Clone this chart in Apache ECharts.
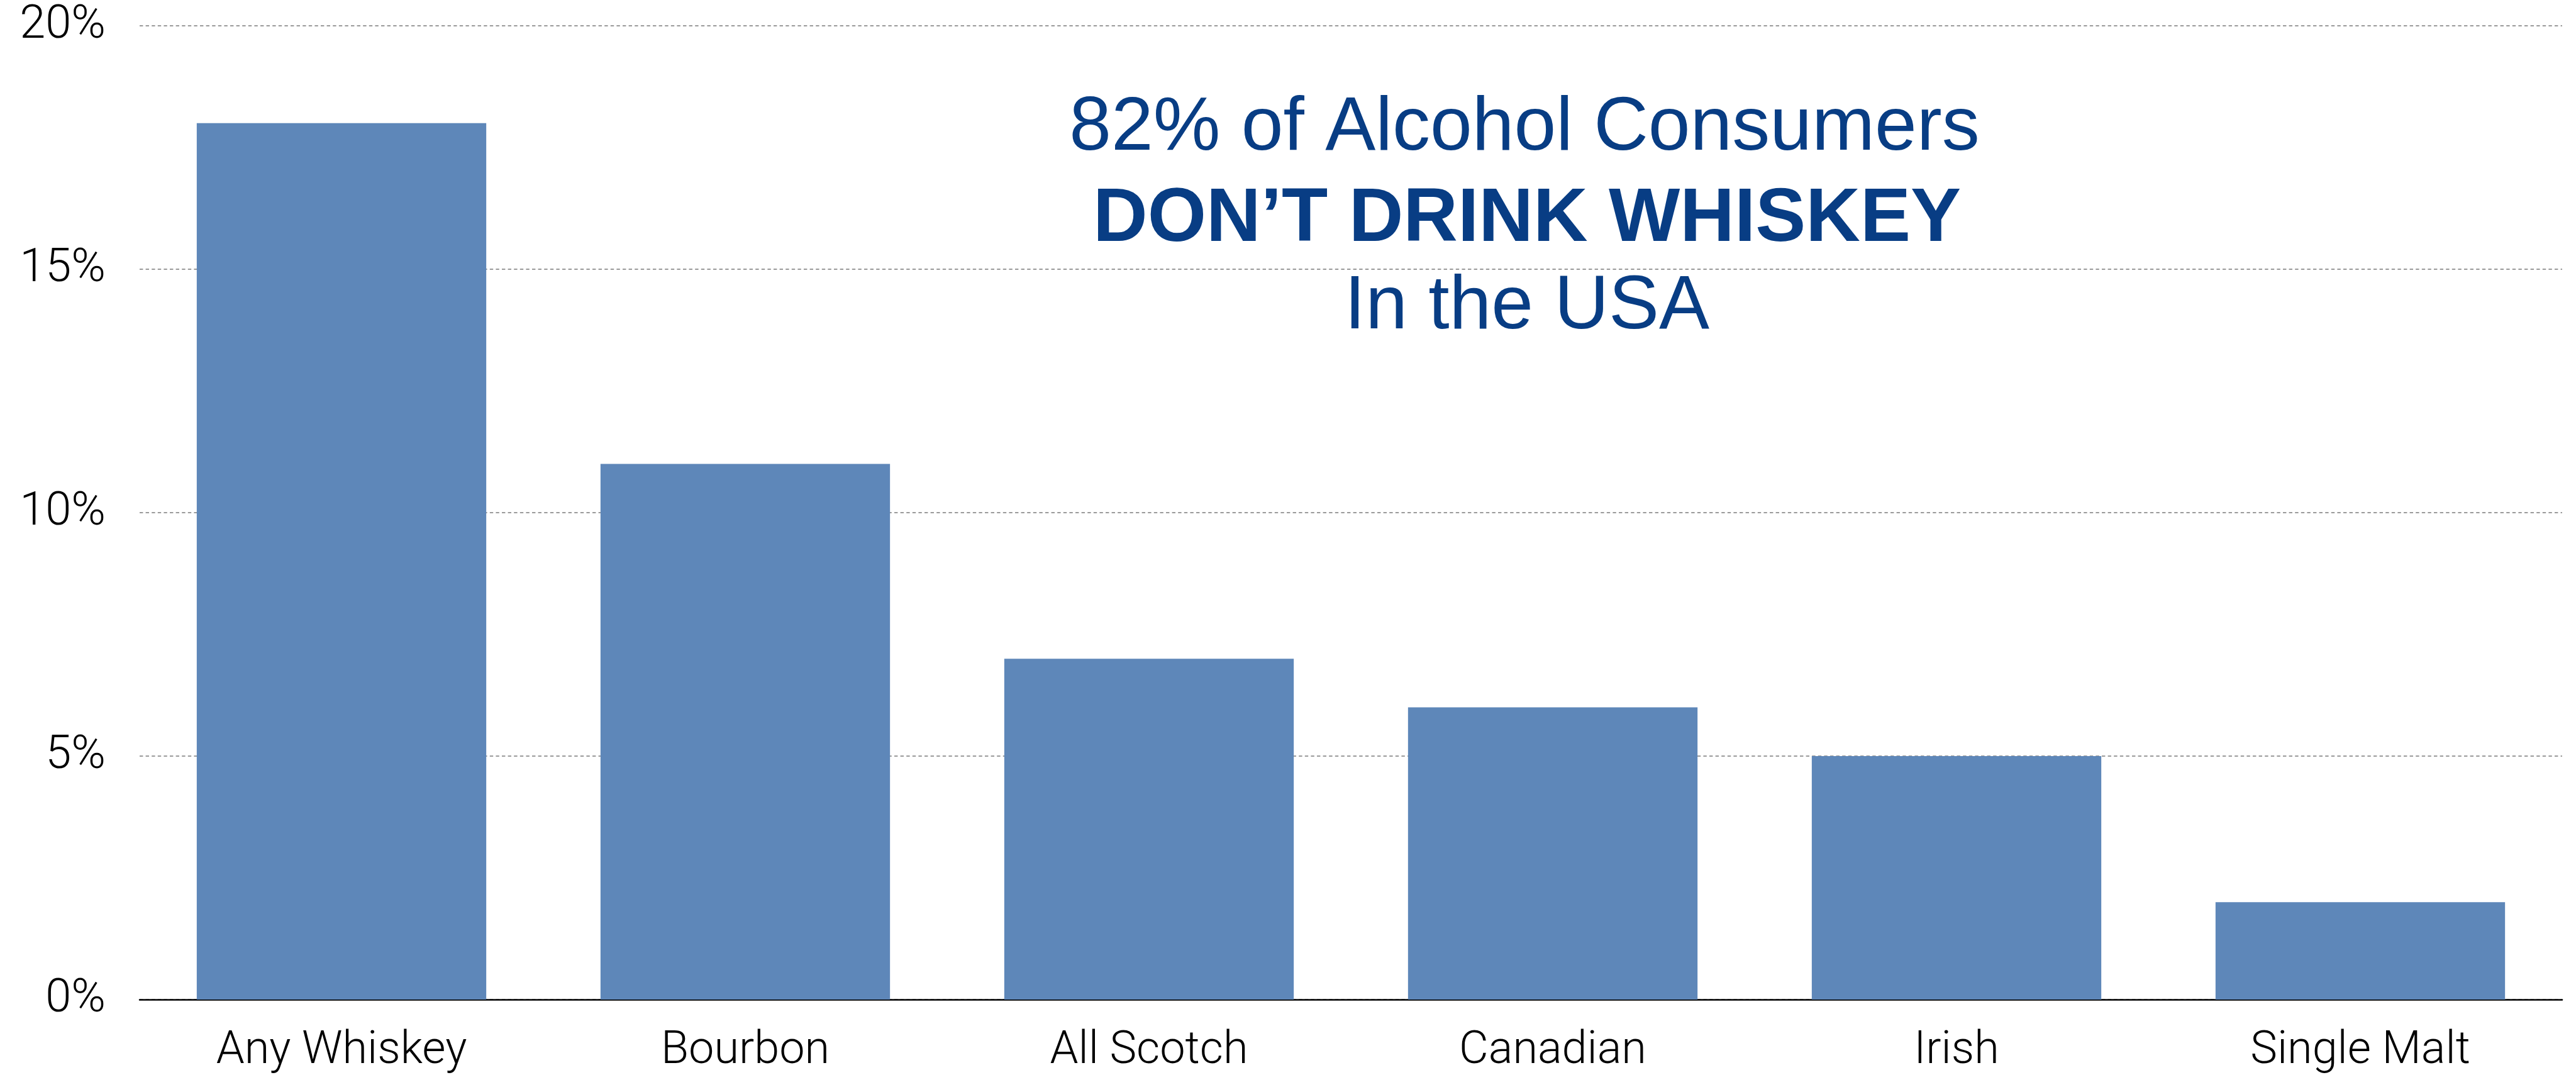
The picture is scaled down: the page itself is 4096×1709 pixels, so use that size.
<!DOCTYPE html>
<html>
<head>
<meta charset="utf-8">
<script src="https://cdn.jsdelivr.net/npm/echarts@6/dist/echarts.min.js"></script>
<style>
  html, body { margin: 0; padding: 0; background: #ffffff; }
  #chart { width: 4096px; height: 1709px; }
</style>
</head>
<body>
<div id="chart"></div>
<script>
// ---- data ----
const categories = ['Any Whiskey', 'Bourbon', 'All Scotch', 'Canadian', 'Irish', 'Single Malt'];
const shares = [18, 11, 7, 6, 5, 2];
const yMin = 0;
const yMax = 20;
const yStep = 5;
const titleLines = ['82% of Alcohol Consumers', 'DON\u2019T DRINK WHISKEY', 'In the USA'];

// ---- styles ----
const barColor = '#5e87b9';
const titleColor = '#083d84';
const labelFont = 'Roboto, "Helvetica Neue", Arial, sans-serif';
const titleFont = '"Liberation Sans", Arial, Helvetica, sans-serif';

const chart = echarts.init(document.getElementById('chart'));
chart.setOption({
  animation: false,
  backgroundColor: '#ffffff',
  grid: { left: 222, right: 22, top: 41, bottom: 120, containLabel: false },
  xAxis: {
    type: 'category',
    data: categories,
    axisLine: { show: true, lineStyle: { color: '#000000', width: 2.5 } },
    axisTick: { show: false },
    axisLabel: {
      margin: 47,
      fontSize: 72,
      fontFamily: labelFont,
      fontWeight: 300,
      color: '#000000'
    }
  },
  yAxis: {
    type: 'value',
    min: yMin,
    max: yMax,
    interval: yStep,
    axisLine: { show: false },
    axisTick: { show: false },
    axisLabel: {
      margin: 54,
      fontSize: 74,
      fontFamily: labelFont,
      fontWeight: 300,
      color: '#000000',
      formatter: '{value}%'
    },
    splitLine: {
      show: true,
      lineStyle: { color: '#9a9a9a', width: 1.8, type: [5.4, 4.2] }
    }
  },
  series: [{
    type: 'bar',
    data: shares,
    barCategoryGap: '28.3%',
    itemStyle: { color: barColor },
    z: 3
  }],
  graphic: [
    {
      type: 'text', z: 10,
      style: { text: titleLines[0], x: 2424, y: 205, align: 'center', verticalAlign: 'middle',
               fontSize: 120, fontFamily: titleFont, fontWeight: 'normal', fill: titleColor }
    },
    {
      type: 'text', z: 10,
      style: { text: titleLines[1], x: 2428, y: 350, align: 'center', verticalAlign: 'middle',
               fontSize: 120, fontFamily: titleFont, fontWeight: 'bold', fill: titleColor }
    },
    {
      type: 'text', z: 10,
      style: { text: titleLines[2], x: 2428, y: 489, align: 'center', verticalAlign: 'middle',
               fontSize: 120, fontFamily: titleFont, fontWeight: 'normal', fill: titleColor }
    }
  ]
});
</script>
</body>
</html>
